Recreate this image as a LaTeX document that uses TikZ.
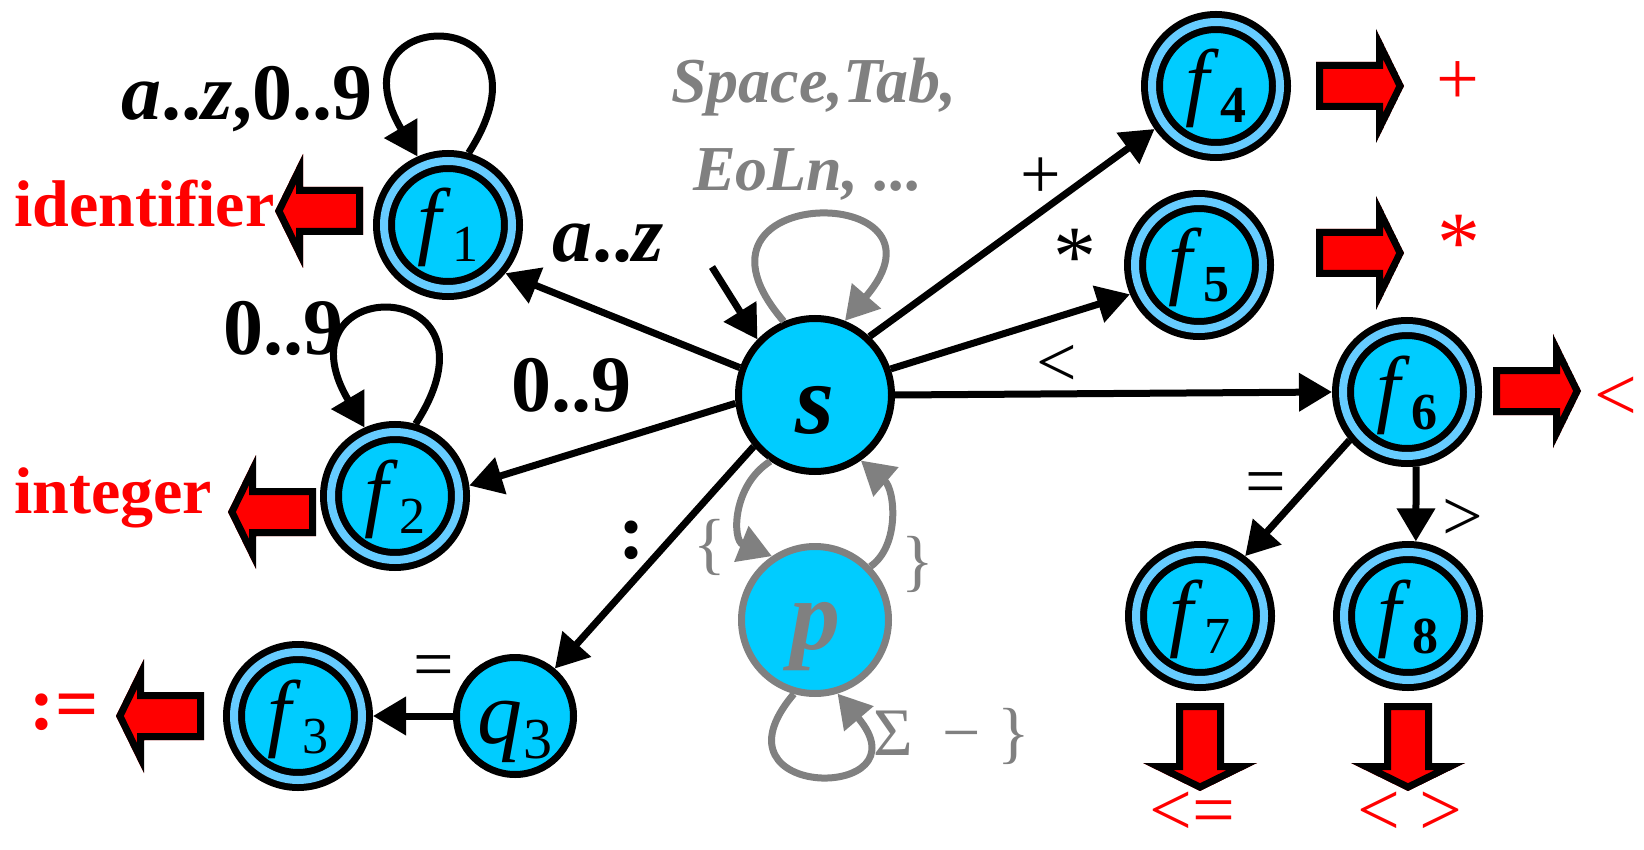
\documentclass[tikz,border=0pt]{standalone}
\usepackage{fontspec}
\setmainfont{Liberation Serif}
\usetikzlibrary{arrows.meta}

\definecolor{statefill}{HTML}{00CCFF}
\definecolor{ringblue}{HTML}{66CCFF}
\definecolor{skipgray}{HTML}{808080}
\definecolor{tokred}{HTML}{FF0000}

\newcommand{\fs}[1]{\fontsize{#1}{#1}\selectfont}
% state name f_i, lowered so that it sits a little below the centre of the circle
\newcommand{\fname}[1]{\raisebox{-24pt}[0pt][0pt]{\fs{86}\textit{f}\kern2pt\raisebox{-13pt}{\fs{52}#1}}}

\tikzset{
  trans/.style={line width=7pt, -{Triangle[length=33pt,width=37pt]}},
  gtrans/.style={trans, draw=skipgray},
  final/.style={circle, minimum size=128pt, inner sep=0pt, draw=black, line width=7pt,
                double=ringblue, double distance=8pt, fill=statefill, outer sep=11pt},
  plain/.style={circle, inner sep=0pt, draw=black, line width=7pt, fill=statefill, outer sep=3.5pt},
  pics/outarrow/.style={code={
    \begin{scope}
      \clip (0,0) -- (-28,57) -- (-28,24) -- (-88,24) -- (-88,-24) -- (-28,-24) -- (-28,-57) -- cycle;
      \draw[line width=14pt, fill=tokred, line join=miter]
        (0,0) -- (-28,57) -- (-28,24) -- (-88,24) -- (-88,-24) -- (-28,-24) -- (-28,-57) -- cycle;
    \end{scope}}},
  lbl/.style={inner sep=0pt, font=\fs{72}},
  blbl/.style={inner sep=0pt, font=\fs{80}\bfseries},
  rlbl/.style={inner sep=0pt, text=tokred, font=\fs{76}},
  rblbl/.style={inner sep=0pt, text=tokred, font=\fs{66}\bfseries},
  glbl/.style={inner sep=0pt, text=skipgray, font=\fs{68}},
  gilbl/.style={inner sep=0pt, text=skipgray, font=\fs{64}\bfseries\itshape},
}

\begin{document}
\begin{tikzpicture}[x=1pt, y=-1pt]
\useasboundingbox (0,0) rectangle (1644,850);

% states
\node[plain, minimum size=153pt] (s) at (815,395)
  {\raisebox{-39pt}[0pt][0pt]{\fs{100}\textbf{\textit{s}}}};
\node[plain, minimum size=147pt, draw=skipgray] (p) at (815,620)
  {\raisebox{-29pt}[0pt][0pt]{\fs{100}\color{skipgray}\textbf{\textit{p}}}};
\node[plain, minimum size=117pt] (q3) at (515,716)
  {\raisebox{-27pt}[0pt][0pt]{\fs{90}\textit{q}\kern1pt\raisebox{-15pt}{\fs{58}3}}};
\node[final] (f1) at (448,225) {\fname{1}};
\node[final] (f2) at (395,496) {\fname{2}};
\node[final] (f3) at (298,716) {\fname{3}};
\node[final] (f4) at (1216,86) {\fname{\textbf{4}}};
\node[final] (f5) at (1199,265) {\fname{\textbf{5}}};
\node[final] (f6) at (1407,392) {\fname{\textbf{6}}};
\node[final] (f7) at (1200,616) {\fname{7}};
\node[final] (f8) at (1408,616) {\fname{\textbf{8}}};

% start arrow
\coordinate (start) at (712,267);
\draw[trans] (start) -- (s.136);

% transitions
\draw[trans] (s.160) -- (f1.-40);
\draw[trans] (s.186) -- (f2.8);
\draw[trans] (s.220) -- (q3.50);
\draw[trans] (q3.west) -- (f3.east);
\draw[trans] (s.47) -- (f4.215);
\draw[trans] (s.19) -- (f5.203);
\draw[trans] (s.east) -- (f6.west);
\draw[trans] (f6.220) -- (f7.53);
\draw[trans] (f6.-83) -- (f8.84);

% loops
\draw[trans] (f1.74) .. controls +(98,-152) and +(-92,-155) .. (f1.114);
\draw[trans] (f2.74) .. controls +(98,-152) and +(-92,-155) .. (f2.114);
\draw[gtrans] (s.113) .. controls +(-121,-140) and +(121,-140) .. (s.68);
\draw[gtrans] (s.236) .. controls +(-38,24) and +(-40,-16) .. (p.124);
\draw[gtrans] (p.44) .. controls +(30,-21) and +(34,29) .. (s.-55);
\draw[gtrans] (p.-106) .. controls +(-92,108) and +(92,108) .. (p.-73);

% transition labels
\node[blbl, anchor=base west] (lf1) at (121,120) {\textit{a}..\textit{z},0..9};
\node[blbl, anchor=base west] (lf2) at (223,355) {0..9};
\node[blbl, anchor=base west] (laz) at (552,262) {\textit{a}..\textit{z}};
\node[blbl, anchor=base west] (ldig) at (511,411) {0..9};
\node[blbl] (lcol) at (632,540) {:};
\node[lbl] (lplus) at (1041,178) {+};
\node[lbl, font=\fs{86}] (last) at (1075,257) {*};
\node[lbl] (llt) at (1057,366) {<};
\node[lbl] (leq) at (1266,489) {=};
\node[lbl] (lgt) at (1463,520) {>};
\node[lbl] (leq3) at (434,672) {=};
\node[gilbl, anchor=base west] (lsp1) at (671,103) {Space,Tab,};
\node[gilbl, anchor=base west] (lsp2) at (693,191) {EoLn, ...};
\node[glbl] (lob) at (710,547) {\{};
\node[glbl] (lcb) at (918,564) {\}};
\node[glbl, anchor=base west] (lsig) at (873,755) {Σ\hspace{30pt}−\hspace{16pt}\}};

% recognised tokens
\pic[rotate=180] at (275,211) {outarrow};
\pic[rotate=180] at (228,512) {outarrow};
\pic[rotate=180] at (116,716) {outarrow};
\pic at (1404,86) {outarrow};
\pic at (1404,253) {outarrow};
\pic at (1581,391) {outarrow};
\pic[rotate=-90] at (1200,791) {outarrow};
\pic[rotate=-90] at (1408,791) {outarrow};

\node[rblbl, anchor=base west] (tid) at (14,227) {identifier};
\node[rblbl, anchor=base west] (tint) at (14,513) {integer};
\node[rlbl, font=\fs{76}\bfseries] (tassign) at (64,712) {:=};
\node[rlbl] (tplus) at (1458,83) {+};
\node[rlbl, font=\fs{86}] (tast) at (1459,243) {*};
\node[rlbl] (tlt) at (1616,399) {<};
\node[rlbl] (tle) at (1192,814) {<=};
\node[rlbl] (tne) at (1410,814) {< >};
\end{tikzpicture}
\end{document}
